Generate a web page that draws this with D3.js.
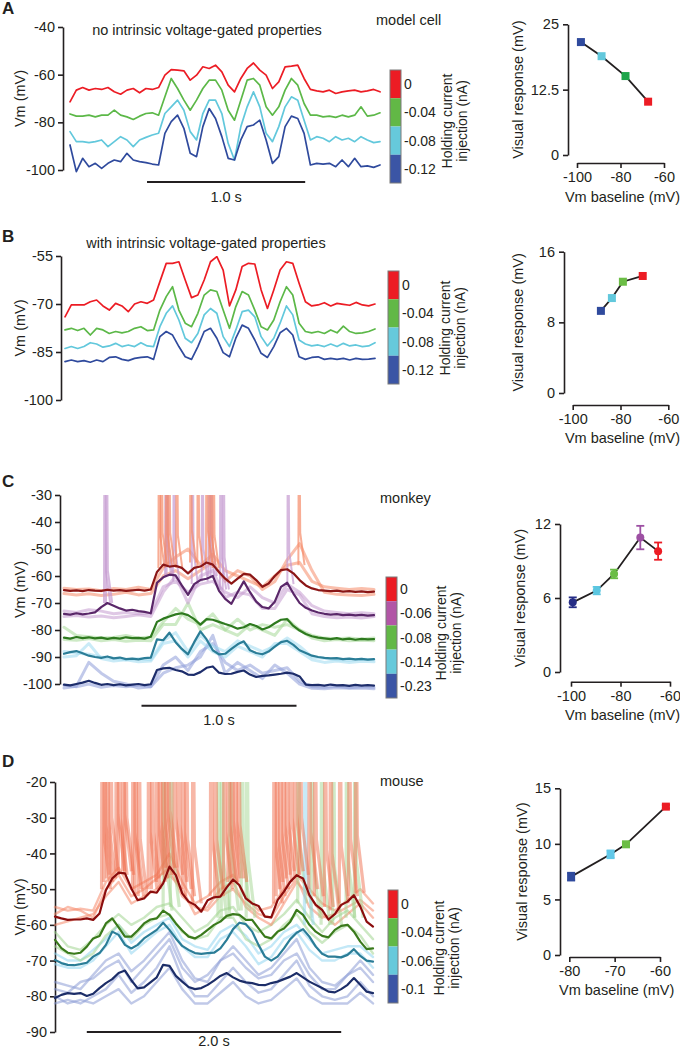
<!DOCTYPE html>
<html><head><meta charset="utf-8">
<script src="https://cdn.jsdelivr.net/npm/d3@7"></script>
<style>
body{margin:0;background:#fff}
svg{display:block}
text{font-family:"Liberation Sans",Arial,sans-serif}
</style>
</head><body><svg id="fig" width="680" height="1050"></svg>
<script>
// ---------------- DATA ----------------
// Panel A (model cell, no intrinsic properties): Vm (mV), sampled every 0.04 s
const dtA = 0.04;
const aRed   = [-71.4,-66.5,-65.4,-66.5,-65.8,-66.2,-65.4,-67.2,-68.2,-66.5,-65.8,-67.6,-65.8,-66.2,-65.4,-60.2,-57.9,-58.1,-58.4,-62.3,-60.2,-56.7,-57.4,-56,-58.8,-64.4,-67.2,-61.6,-57.4,-55.1,-58.1,-60.2,-65.8,-63,-56.7,-56.4,-56,-61.6,-66.2,-66.8,-67.2,-66.5,-67.9,-67.2,-66.8,-66.5,-67.2,-66.8,-66.2,-67.2];
const aGreen = [-76.5,-77.4,-77.4,-77,-77.7,-77,-77,-74.9,-77,-77.7,-78.8,-77.4,-76.3,-76,-77,-69.3,-61.6,-65.8,-70.7,-74.9,-70.7,-65.8,-62.3,-62.3,-66.5,-74.9,-79.1,-70.7,-62.3,-61.6,-64.4,-73.5,-77,-73.5,-66.5,-61.6,-64.4,-72.1,-77,-77,-77.7,-77.4,-77.9,-77,-77.7,-77,-73.5,-77.4,-77,-76];
const aCyan  = [-83.9,-88.1,-88.1,-88.5,-88.1,-87.4,-90.2,-88.1,-86,-87.4,-90.2,-87.4,-86.3,-85.3,-84.6,-76.3,-73.5,-70.7,-74.9,-83.9,-87.4,-76.3,-70.7,-70.7,-76.3,-88.8,-95.8,-81.8,-73.5,-67.2,-73.5,-84.6,-88.1,-81.8,-73.5,-69.3,-70.7,-79.1,-87.4,-86,-86.7,-88.1,-86,-87.4,-86.7,-88.1,-86,-87.4,-88.5,-88.1];
const aBlue  = [-89.5,-100.7,-95.1,-98.6,-97.2,-99.3,-97.2,-95.8,-96.5,-93,-95.8,-96.5,-96.9,-97.5,-97.9,-84.6,-79.7,-77,-82.5,-93,-94.4,-81.8,-74.2,-78.4,-86,-95.1,-95.8,-87.4,-81.8,-81.1,-79.1,-87.4,-97.2,-94.4,-81.8,-77.4,-78.4,-84.6,-97.9,-97.2,-97.5,-97.2,-98.6,-95.8,-98.6,-95.1,-98.6,-98.3,-98.9,-97.9];

// Panel B (with intrinsic properties)
const dtB = 0.04;
const bRed   = [-74,-70.3,-70.3,-70.3,-69.3,-68.75,-70.6,-71.9,-69.8,-70.6,-72.4,-70,-69.3,-69.8,-68.75,-63,-57.3,-57.3,-56.8,-62.5,-68,-67.2,-62.5,-56.8,-55.2,-59.4,-70.6,-65.6,-58.3,-57.3,-57.5,-65.6,-71.4,-65.6,-59.4,-56.8,-57.3,-63.5,-69.3,-70.6,-70.3,-69.6,-70.6,-69.8,-70.1,-70.4,-69.5,-70.3,-70.6,-70];
const bGreen = [-78.1,-77.6,-78.3,-77.6,-79.7,-77.6,-78.1,-79.2,-78.6,-79,-78.6,-77.6,-77.1,-78.3,-78.1,-71.9,-67.7,-64.6,-71.9,-76,-77.1,-72.9,-67.2,-65.6,-66.1,-71.9,-77.6,-70.8,-66.1,-67.2,-71.9,-77.1,-78.1,-75,-69.3,-64.6,-67.2,-76,-78.6,-79,-78.6,-79.2,-78.1,-79,-76.9,-78.6,-79.2,-79,-78.6,-77.8];
const bCyan  = [-83.9,-83.3,-83.9,-83.3,-82.1,-82.5,-83.5,-83.1,-82.3,-83.3,-82.8,-83.3,-82.1,-83.1,-83.3,-77.1,-72.9,-70.6,-75,-80.7,-82.1,-79.2,-73.4,-71.4,-72.9,-80.2,-83.3,-78.1,-72.4,-71.9,-74,-80.2,-83.1,-80.7,-76,-70.6,-73.4,-81.25,-82.5,-83.1,-82.8,-83.3,-82.5,-83.3,-82.3,-83.1,-82.8,-83.3,-83.1,-82.1];
const bBlue  = [-88,-87.5,-88,-87.7,-88.2,-87.5,-88,-86.7,-86.5,-87.3,-87.7,-87,-86.7,-86.5,-87.3,-80.2,-78.6,-79.7,-83.3,-86.5,-87.3,-83.3,-78.6,-77.6,-80.7,-85.2,-86.5,-80.7,-76.6,-77.6,-81.25,-85.4,-86.7,-83.3,-79,-77.6,-79.7,-86.5,-87.3,-86.7,-86.5,-87.3,-87,-87.3,-87,-87.5,-87,-87.3,-87.2,-87];

// Panel C (monkey): averages sampled every 0.04 s, single trials every 0.08 s
const dtC = 0.04, dtCTrial = 0.08;
const cRed    = [-65.2,-65.5,-65.3,-65.6,-65.2,-65.4,-65.5,-65.1,-65.4,-65.2,-65.5,-65.3,-65.1,-65.4,-65,-58.5,-55.8,-56.5,-56.2,-57,-59,-57,-56.5,-55,-55.8,-58.5,-61,-62.8,-61,-59.2,-59.5,-61.5,-64,-62.8,-60,-57.8,-57.5,-59,-61.5,-63.5,-64.6,-65.2,-65.4,-65.6,-65.4,-65.8,-65.6,-65.9,-65.7,-66,-65.8];
const cPurple = [-74,-74.3,-73.8,-74.2,-73.9,-73.5,-71.5,-70,-71,-72,-72.8,-72.5,-73,-73.3,-73.8,-62.5,-60.5,-59.5,-59.8,-63.5,-67,-63,-61.5,-61,-60,-65.5,-68.5,-70.3,-66,-62,-66,-69.5,-71.5,-72,-69.5,-64,-62.5,-66.5,-70,-71.8,-72.8,-73.5,-74,-74.3,-74.1,-74.5,-74.3,-74.6,-74.4,-74.7,-74.5];
const cGreen  = [-82.8,-83.2,-82.6,-83,-82.7,-83.1,-82.8,-83.3,-82.9,-83.2,-82.7,-83,-82.9,-83.2,-82.5,-77,-75.8,-75,-74.2,-73.8,-74.5,-76,-78,-76,-76.2,-77,-77.8,-78.5,-79.5,-79,-77.8,-78.5,-79.8,-79,-77.5,-76.2,-76,-78.5,-80.2,-81.5,-82.3,-82.8,-83.1,-83.4,-83,-83.5,-83.2,-83.6,-83.3,-83.5,-83.4];
const cCyan   = [-88.8,-88.2,-87.8,-88.6,-89.5,-90,-90.3,-89.8,-90.5,-90.2,-90.8,-90.6,-90.9,-90.4,-90.2,-83.5,-83.8,-81,-84.5,-87,-89,-84.5,-80.5,-83.5,-87.5,-89,-88.8,-87,-85.3,-84.2,-87.5,-88.5,-89,-88,-86.2,-84.5,-84,-85.5,-87.5,-88.5,-89.5,-90,-90.3,-90.5,-90.4,-90.8,-90.6,-90.9,-90.7,-91,-90.8];
const cBlue   = [-100.2,-100.5,-100,-99.5,-98.8,-99.6,-100.3,-100,-100.4,-100.1,-100.5,-100.2,-100,-100.4,-100.1,-94.8,-94.2,-94,-94.8,-95.3,-96.5,-96.6,-95.6,-94,-93.5,-95.8,-96.3,-96.2,-95.5,-95,-96.5,-97.4,-97,-96.8,-96.5,-96.2,-95.8,-96.2,-97.2,-100.2,-100.4,-100.3,-100.6,-100.2,-100.5,-100.4,-100.7,-100.3,-100.6,-100.4,-100.6];
const cRedTrials = [
  [-64.5,-65,-64.8,-65.5,-64.6,-65,-64.2,-65,-57,-53,-50,-56,-52,-58,-60,-62,-64,-60,-56,-55,-62,-64,-64.5,-65,-64.6,-65],
  [-66.5,-67,-66.6,-67.2,-66.8,-66,-67,-66.5,-60,-58,-61,-58,-55,-62,-58,-60,-65,-62,-54,-48,-58,-66,-66.8,-67,-67.2,-66.8]];
const cPurpleTrials = [
  [-73,-73.5,-72.5,-73,-74,-73.5,-74,-73.8,-64,-62,-66,-63,-62,-66,-68,-64,-68,-70,-63,-66,-71,-73,-73.5,-74,-73.6,-74],
  [-75,-74.6,-75.2,-74.8,-75.5,-75,-74.4,-75,-66,-60,-70,-60,-58,-68,-66,-67,-72,-72,-65,-67,-74,-75,-75.5,-75.2,-75.6,-75]];
const cGreenTrials = [
  [-79,-82,-82.5,-83,-82.8,-82,-83,-82.6,-77,-72,-76,-78,-74,-80,-76,-80,-78,-79,-78,-80,-82,-83,-83.2,-83,-83.4,-83],
  [-83.5,-83.8,-83.2,-84,-83.5,-84.2,-83.8,-84,-78,-78,-70,-80,-78,-80,-82,-78,-80,-82,-76,-80,-83,-84,-83.5,-84,-83.8,-84]];
const cCyanTrials = [
  [-88,-88.5,-89,-90,-90.5,-91,-90.6,-91,-84,-81,-88,-82,-86,-88,-84,-86,-88,-86,-83,-86,-90,-90.5,-91,-91.2,-90.8,-91],
  [-90,-89.5,-85,-90.6,-91.5,-91,-91.8,-91.5,-85,-84,-90,-84,-88,-90,-86,-88,-90,-85,-85,-88,-91,-92,-91.5,-92,-91.6,-91.8]];
const cBlueTrials = [
  [-100.5,-101,-100,-101.2,-100.6,-101,-100.5,-101,-93,-90,-95,-88,-85,-92,-95,-93,-96,-95,-94,-99,-101,-101.2,-100.8,-101.4,-101,-101.2],
  [-101.5,-100.8,-92,-96,-99,-100,-101.5,-101,-96,-94,-93,-90,-82,-96,-92,-95,-98,-93,-96,-100,-101.6,-101.8,-101.4,-101.6,-101.5,-101.8]];
// spikes: [time (s), membrane potential at spike onset (mV)]
const cRedSpikes = [[0.609,-57],[0.624,-56],[0.656,-56],[0.673,-56],[0.723,-57],[0.813,-55],[0.86,-57],[0.916,-55],[0.938,-56],[0.959,-57],[1.512,-56]];
const cPurpleSpikes = [[0.258,-70],[0.271,-70],[0.652,-60],[0.662,-60],[0.705,-62],[0.824,-63],[0.888,-62],[0.931,-60],[0.946,-60],[1.006,-65],[1.024,-65],[1.441,-63]];

// Panel D (mouse): averages every 0.05 s, single trials every 0.1 s
const dtD = 0.05, dtDTrial = 0.1;
const dRed   = [-57.7,-58.2,-58.6,-58.5,-58.5,-58.2,-58.6,-56.8,-50.3,-47,-45.4,-45.6,-49.8,-53.1,-52.6,-50.7,-51,-48.4,-43.7,-46.1,-51.2,-53.5,-54.4,-56.3,-53.1,-52.3,-52.1,-49.5,-47.3,-48.9,-52.6,-54,-54.7,-57.7,-57.9,-53.1,-50.7,-47.9,-46.1,-47,-51.7,-54.4,-55.8,-58.5,-57,-54.4,-53.5,-51.7,-54.9,-59.1,-60.5];
const dGreen = [-64.2,-66.5,-67.8,-68.1,-67.8,-66.1,-63.8,-63.1,-59.6,-58.2,-60.7,-63.3,-63.3,-61.6,-59.6,-58.5,-58.2,-56,-57.2,-59.6,-61.6,-63.3,-63.8,-62.8,-61.4,-60,-59.1,-57.5,-57,-57.2,-58.6,-58.6,-61,-63.3,-63.8,-61.9,-61,-59.1,-55.8,-57.2,-60,-61.9,-63.1,-63.5,-61.4,-60.3,-60,-61.9,-64.7,-66.8,-66.6];
const dCyan  = [-69.8,-70.7,-71.2,-71.3,-71,-70.6,-68.9,-67.9,-65.6,-61.9,-62.8,-65.6,-66.6,-65.6,-63.8,-62.6,-61.4,-59.4,-61.4,-63.8,-65.9,-67,-67.9,-68.1,-67.9,-67.8,-66.6,-64.2,-61.2,-59.4,-59.8,-61.9,-65.6,-68.9,-70,-68.9,-66.6,-64,-62.2,-61.2,-63.3,-66.1,-68.1,-68.9,-68.9,-69.1,-68.4,-66.8,-68.7,-70,-70.3];
const dBlue  = [-80.5,-79.6,-79.1,-79.3,-79.1,-79.9,-79.3,-77.7,-76.3,-75.2,-73.5,-72.8,-75.5,-77.8,-77.5,-76.1,-74.7,-71.2,-71.5,-74.3,-75.9,-77.4,-78,-77.7,-76.8,-75.6,-74.3,-73.5,-74.7,-75.6,-76.1,-76.3,-76.8,-76.9,-76.3,-75.9,-75.2,-74.5,-73.5,-74.7,-75.9,-76.8,-77.7,-78.7,-78.9,-78,-76.8,-74.9,-76.8,-78.7,-79.1];
const dRedTrials = [
  [-55,-56,-55.5,-56,-48,-44,-50,-48,-46,-40,-48,-54,-52,-48,-46,-52,-56,-55,-50,-46,-50,-54,-56,-53,-50,-54],
  [-60,-59,-58,-57,-52,-48,-54,-52,-50,-46,-50,-57,-55,-50,-48,-55,-58,-60,-54,-48,-52,-57,-60,-57,-54,-58],
  [-57,-55,-56,-58,-50,-46,-52,-50,-47,-44,-52,-55,-56,-52,-50,-54,-57,-58,-52,-47,-55,-58,-57,-55,-53,-56]];
const dGreenTrials = [
  [-62,-66,-67,-64,-60,-57,-60,-58,-55,-54,-58,-62,-60,-56,-55,-60,-62,-60,-57,-53,-58,-62,-58,-56,-60,-64],
  [-66,-68,-70,-68,-63,-60,-64,-60,-58,-57,-62,-64,-63,-58,-58,-64,-66,-64,-60,-57,-62,-65,-62,-60,-63,-68]];
const dCyanTrials = [
  [-68,-70,-70,-67,-64,-60,-65,-62,-60,-58,-64,-66,-67,-62,-60,-63,-68,-66,-62,-60,-64,-68,-67,-66,-66,-69],
  [-71,-72,-72,-70,-66,-62,-68,-65,-62,-60,-66,-69,-69,-64,-62,-66,-71,-69,-64,-62,-67,-70,-70,-68,-68,-72]];
const dBlueTrials = [
  [-78,-79,-76,-75,-72,-70,-76,-72,-68,-64,-72,-76,-74,-70,-68,-72,-75,-74,-70,-68,-74,-78,-78,-74,-72,-76],
  [-82,-81,-82,-80,-78,-74,-79,-76,-72,-66,-75,-80,-80,-76,-72,-76,-79,-78,-74,-70,-77,-80,-81,-80,-76,-80],
  [-80,-82,-81,-82,-80,-78,-82,-80,-76,-72,-78,-82,-82,-79,-76,-80,-82,-81,-78,-75,-80,-82,-82,-82,-79,-82],
  [-76,-77,-78,-74,-70,-68,-73,-70,-66,-62,-70,-75,-76,-70,-66,-70,-74,-72,-68,-64,-72,-76,-77,-74,-70,-74]];
const dRedSpikes = [[0.366,-50],[0.384,-48],[0.405,-47],[0.431,-46],[0.478,-45],[0.497,-46],[0.531,-45],[0.549,-46],[0.609,-50],[0.627,-52],[0.654,-52],[0.732,-50],[0.758,-50],[0.797,-48],[0.818,-47],[0.844,-46],[0.868,-44],[0.889,-44],[0.933,-46],[0.967,-48],[1.001,-50],[1.027,-52],[1.08,-54],[1.221,-52],[1.255,-52],[1.325,-50],[1.359,-48],[1.386,-47],[1.412,-47],[1.438,-48],[1.718,-54],[1.739,-52],[1.765,-50],[1.791,-48],[1.817,-47],[1.848,-46],[1.882,-45],[1.922,-46],[1.995,-50],[2.039,-52],[2.118,-55],[2.162,-56],[2.235,-54],[2.308,-52],[2.361,-51]];
const dGreenSpikes = [[0.85,-56],[0.907,-55],[1.281,-58],[1.307,-58],[1.373,-56],[1.464,-56],[1.503,-58],[1.908,-54],[2.013,-58],[2.092,-60],[2.183,-60],[2.288,-58],[2.353,-58]];
const dCyanSpikes = [[1.961,-60]];

// Colour-bar labels (holding current, nA)
const holdAB = ["0","-0.04","-0.08","-0.12"];
const holdC  = ["0","-0.06","-0.08","-0.14","-0.23"];
const holdD  = ["0","-0.04","-0.06","-0.1"];

// Right-hand panels: Vm baseline (mV) vs visual response (mV)
const respA = {vm:[-98.2,-88.7,-77.7,-67.3], resp:[21.6,18.9,15.1,10.2]};
const respB = {vm:[-88.2,-83.6,-79.0,-70.7], resp:[9.3,10.75,12.6,13.25]};
const respC = {vm:[-99.3,-89.6,-82.6,-72.0,-64.8], resp:[5.65,6.6,7.95,10.9,9.8], err:[0.4,0.3,0.35,0.95,0.7]};
const respD = {vm:[-79.6,-70.9,-67.5,-58.7], resp:[7.05,9.06,9.96,13.35], err:[0.35,0.35,0.2,0.15]};

// ---------------- DRAWING ----------------
const INK = "#231f20";
const FONT = '"Liberation Sans", Arial, sans-serif';
const svg = d3.select("#fig");
svg.append("rect").attr("width",680).attr("height",1050).attr("fill","#fff");

function txt(x, y, s, o = {}) {
  const t = svg.append("text").attr("x", x).attr("y", y).text(s)
    .attr("font-size", o.size || 14.5).attr("text-anchor", o.anchor || "start")
    .attr("font-weight", o.weight || "normal").attr("fill", INK).attr("font-family", FONT);
  if (o.rot) t.attr("transform", `rotate(-90,${x},${y})`);
  return t;
}
function styleAxis(ax) {
  ax.select(".domain").attr("stroke", INK).attr("stroke-width", 1.6);
  ax.selectAll(".tick line").attr("stroke", INK).attr("stroke-width", 1.6);
  ax.selectAll(".tick text").attr("font-size", 14.5).attr("font-family", FONT).attr("fill", INK);
}
let clipN = 0;
function tracePanel(p) {
  const x = d3.scaleLinear().domain([0, p.tMax]).range(p.xRange);
  const y = d3.scaleLinear().domain(p.yDomain).range(p.yRange);
  const ax = svg.append("g").attr("transform", `translate(${p.axisX},0)`)
    .call(d3.axisLeft(y).tickValues(p.ticks).tickSize(5).tickSizeOuter(0).tickPadding(3).tickFormat(d => String(d)));
  styleAxis(ax);
  const id = "clip" + (clipN++);
  svg.append("clipPath").attr("id", id).append("rect")
    .attr("x", p.xRange[0] - 4).attr("y", p.yRange[1]).attr("width", p.xRange[1] - p.xRange[0] + 8).attr("height", 400);
  const g = svg.append("g").attr("clip-path", `url(#${id})`);
  txt(25, (p.yRange[0] + p.yRange[1]) / 2, "Vm (mV)", {anchor: "middle", rot: true});
  return {x, y, g};
}
function series(P, vals, dt, color, w, op) {
  const line = d3.line().x((d, i) => P.x(i * dt)).y(d => P.y(d));
  P.g.append("path").datum(vals).attr("d", line).attr("fill", "none")
    .attr("stroke", color).attr("stroke-width", w).attr("stroke-opacity", op)
    .attr("stroke-linejoin", "round").attr("stroke-linecap", "round");
}
function spikes(P, list, color, w, op, shape) {
  const line = d3.line().x(d => P.x(d[0])).y(d => P.y(d[1]));
  list.forEach(([t, v]) => {
    const pts = [[t, v], [t + shape.rise, 20], [t + shape.rise + shape.fall, v + shape.ahp + 12], [t + shape.tail, v]];
    P.g.append("path").attr("d", line(pts)).attr("fill", "none").attr("stroke", color)
      .attr("stroke-width", w).attr("stroke-opacity", op).attr("stroke-linejoin", "round");
  });
}
function scaleBar(P, t0, t1, yPix, label, labelY) {
  svg.append("line").attr("x1", P.x(t0)).attr("x2", P.x(t1)).attr("y1", yPix).attr("y2", yPix)
    .attr("stroke", INK).attr("stroke-width", 2);
  txt((P.x(t0) + P.x(t1)) / 2, labelY, label, {anchor: "middle"});
}
function colorbar(x0, y0, w, h, colors, labels, t1x, t2x, tcy) {
  const band = d3.scaleBand().domain(labels).range([y0, y0 + h]);
  labels.forEach((l, i) => {
    svg.append("rect").attr("x", x0).attr("y", band(l)).attr("width", w).attr("height", band.bandwidth()).attr("fill", colors[i]);
    txt(x0 + w + 3, band(l) + band.bandwidth() / 2 + 5, l, {size: 14});
  });
  svg.append("rect").attr("x", x0).attr("y", y0).attr("width", w).attr("height", h)
    .attr("fill", "none").attr("stroke", "#7a7a7a").attr("stroke-width", 1);
  txt(t1x, tcy, "Holding current", {anchor: "middle", rot: true, size: 14});
  txt(t2x, tcy, "injection (nA)", {anchor: "middle", rot: true, size: 14});
}
function respPanel(p) {
  const x = d3.scaleLinear().domain([p.xTicks[0], p.xTicks[p.xTicks.length - 1]]).range(p.xRange);
  const y = d3.scaleLinear().domain([p.yTicks[0], p.yTicks[p.yTicks.length - 1]]).range(p.yRange);
  const ay = svg.append("g").attr("transform", `translate(${p.yAxisX},0)`)
    .call(d3.axisLeft(y).tickValues(p.yTicks).tickSize(5).tickSizeOuter(0).tickPadding(4).tickFormat(d => String(d)));
  styleAxis(ay);
  const axx = svg.append("g").attr("transform", `translate(0,${p.xAxisY})`)
    .call(d3.axisBottom(x).tickValues(p.xTicks).tickSize(5).tickSizeOuter(0).tickPadding(4).tickFormat(d => String(d)));
  styleAxis(axx);
  const d = p.data;
  const pts = d.vm.map((v, i) => [v, d.resp[i]]);
  svg.append("path").datum(pts).attr("d", d3.line().x(q => x(q[0])).y(q => y(q[1])))
    .attr("fill", "none").attr("stroke", INK).attr("stroke-width", 1.8);
  pts.forEach((q, i) => {
    const cx = x(q[0]), cy = y(q[1]);
    if (d.err) {
      const e = d.err[i], y1 = y(q[1] + e), y2 = y(q[1] - e);
      const g = svg.append("g").attr("stroke", p.colors[i]).attr("stroke-width", 1.8);
      g.append("line").attr("x1", cx).attr("x2", cx).attr("y1", y1).attr("y2", y2);
      g.append("line").attr("x1", cx - 4).attr("x2", cx + 4).attr("y1", y1).attr("y2", y1);
      g.append("line").attr("x1", cx - 4).attr("x2", cx + 4).attr("y1", y2).attr("y2", y2);
    }
    if (p.shape === "circle") svg.append("circle").attr("cx", cx).attr("cy", cy).attr("r", 4).attr("fill", p.colors[i]);
    else svg.append("rect").attr("x", cx - 4).attr("y", cy - 4).attr("width", 8).attr("height", 8).attr("fill", p.colors[i]);
  });
  txt(p.yLabelX, (p.yRange[0] + p.yRange[1]) / 2, "Visual response (mV)", {anchor: "middle", rot: true});
  txt((p.xRange[0] + p.xRange[1]) / 2 + 2, p.xTitleY, "Vm baseline (mV)", {anchor: "middle"});
}

const RED = "#ec1c24", GREEN = "#5cb848", CYAN = "#62c8dc", BLUE = "#2f4a9d";
const barAB = ["#ec1c24", "#62b846", "#66c9db", "#3b55a5"];

// ---- Panel A ----
txt(2, 14, "A", {size: 17, weight: "bold"});
const PA = tracePanel({tMax: 49 * dtA, xRange: [70, 380], yDomain: [-100, -40], yRange: [170, 27], axisX: 63, ticks: [-40, -60, -80, -100]});
series(PA, aRed, dtA, RED, 1.7, 1);
series(PA, aGreen, dtA, GREEN, 1.7, 1);
series(PA, aCyan, dtA, CYAN, 1.7, 1);
series(PA, aBlue, dtA, BLUE, 1.7, 1);
scaleBar(PA, 0.487, 1.487, 182, "1.0 s", 202);
txt(207, 35, "no intrinsic voltage-gated properties", {anchor: "middle"});
txt(376, 25, "model cell");
colorbar(390, 70, 11, 113, barAB, holdAB, 452, 467, 121);
respPanel({data: respA, colors: [BLUE, CYAN, "#1ea54b", RED], shape: "square",
  xTicks: [-100, -80, -60], xRange: [577, 664], xAxisY: 163,
  yTicks: [0, 12.5, 25], yRange: [155, 24.3], yAxisX: 568, yLabelX: 523, xTitleY: 202});

// ---- Panel B ----
txt(2, 242, "B", {size: 17, weight: "bold"});
const PB = tracePanel({tMax: 49 * dtB, xRange: [65, 375], yDomain: [-100, -55], yRange: [400, 256], axisX: 61, ticks: [-55, -70, -85, -100]});
series(PB, bRed, dtB, RED, 1.7, 1);
series(PB, bGreen, dtB, GREEN, 1.7, 1);
series(PB, bCyan, dtB, CYAN, 1.7, 1);
series(PB, bBlue, dtB, BLUE, 1.7, 1);
txt(206, 248, "with intrinsic voltage-gated properties", {anchor: "middle"});
colorbar(388, 271, 11, 113, barAB, holdAB, 450, 465, 328);
respPanel({data: respB, colors: [BLUE, CYAN, "#6bbd45", RED], shape: "square",
  xTicks: [-100, -80, -60], xRange: [572.7, 668.3], xAxisY: 405,
  yTicks: [0, 8, 16], yRange: [393, 251.7], yAxisX: 564, yLabelX: 523, xTitleY: 443});

// ---- Panel C ----
txt(2, 487, "C", {size: 17, weight: "bold"});
const PC = tracePanel({tMax: 2.0, xRange: [64, 374], yDomain: [-100, -30], yRange: [684, 495], axisX: 60, ticks: [-30, -40, -50, -60, -70, -80, -90, -100]});
const cTrialCol = {red: "#f58a68", purple: "#c49ad0", green: "#a6d897", cyan: "#9fdaf1", blue: "#8e9dd8"};
cBlueTrials.forEach(a => series(PC, a, dtCTrial, cTrialCol.blue, 3, 0.55));
cCyanTrials.forEach(a => series(PC, a, dtCTrial, cTrialCol.cyan, 3, 0.55));
cGreenTrials.forEach(a => series(PC, a, dtCTrial, cTrialCol.green, 3, 0.55));
cPurpleTrials.forEach(a => series(PC, a, dtCTrial, cTrialCol.purple, 3, 0.55));
cRedTrials.forEach(a => series(PC, a, dtCTrial, cTrialCol.red, 3, 0.55));
spikes(PC, cPurpleSpikes, cTrialCol.purple, 2, 0.7, {rise: 0.004, fall: 0.008, ahp: 0, tail: 0.04});
spikes(PC, cRedSpikes, cTrialCol.red, 2, 0.7, {rise: 0.004, fall: 0.008, ahp: 0, tail: 0.04});
series(PC, cBlue, dtC, "#1d2d6b", 2.2, 1);
series(PC, cCyan, dtC, "#2b7d97", 2.2, 1);
series(PC, cGreen, dtC, "#2e7a1f", 2.2, 1);
series(PC, cPurple, dtC, "#5a2769", 2.2, 1);
series(PC, cRed, dtC, "#8b1616", 2.2, 1);
scaleBar(PC, 0.5, 1.5, 705.7, "1.0 s", 725);
txt(380, 503, "monkey");
colorbar(386, 577, 11, 121, ["#ec1c24", "#b256a6", "#62b846", "#66c9db", "#3b55a5"], holdC, 446, 461, 633);
respPanel({data: respC, colors: ["#262d86", "#5bc6e0", "#6abd45", "#9d50a3", "#ec1c24"], shape: "circle",
  xTicks: [-100, -80, -60], xRange: [571, 670], xAxisY: 681.7,
  yTicks: [0, 6, 12], yRange: [672, 524], yAxisX: 560, yLabelX: 525, xTitleY: 720});

// ---- Panel D ----
txt(2, 767, "D", {size: 17, weight: "bold"});
const PD = tracePanel({tMax: 2.5, xRange: [55, 373], yDomain: [-90, -20], yRange: [1032, 782], axisX: 55, ticks: [-20, -30, -40, -50, -60, -70, -80, -90]});
const dTrialCol = {red: "#f5896a", green: "#a3d592", cyan: "#92d6f0", blue: "#8c9cd6"};
dBlueTrials.forEach(a => series(PD, a, dtDTrial, dTrialCol.blue, 2.4, 0.55));
dCyanTrials.forEach(a => series(PD, a, dtDTrial, dTrialCol.cyan, 2.4, 0.55));
dGreenTrials.forEach(a => series(PD, a, dtDTrial, dTrialCol.green, 2.4, 0.55));
dRedTrials.forEach(a => series(PD, a, dtDTrial, dTrialCol.red, 2.4, 0.55));
spikes(PD, dGreenSpikes, dTrialCol.green, 3.2, 0.5, {rise: 0.004, fall: 0.012, ahp: 4, tail: 0.07});
spikes(PD, dCyanSpikes, dTrialCol.cyan, 3.2, 0.5, {rise: 0.004, fall: 0.012, ahp: 4, tail: 0.07});
spikes(PD, dRedSpikes, "#f07050", 3.2, 0.5, {rise: 0.004, fall: 0.012, ahp: 4, tail: 0.07});
series(PD, dBlue, dtD, "#1c2d68", 2.2, 1);
series(PD, dCyan, dtD, "#2b7d97", 2.2, 1);
series(PD, dGreen, dtD, "#3a7a1c", 2.2, 1);
series(PD, dRed, dtD, "#8b0d0d", 2.2, 1);
scaleBar(PD, 0.25, 2.25, 1032, "2.0 s", 1046);
txt(380, 786, "mouse");
colorbar(388, 890, 10, 113, barAB, holdD, 444, 459, 948);
respPanel({data: respD, colors: [BLUE, "#62c8e8", "#6bbd45", RED], shape: "square",
  xTicks: [-80, -70, -60], xRange: [569.3, 660], xAxisY: 957,
  yTicks: [0, 5, 10, 15], yRange: [955, 788.3], yAxisX: 560, yLabelX: 527, xTitleY: 995});
</script></body></html>
